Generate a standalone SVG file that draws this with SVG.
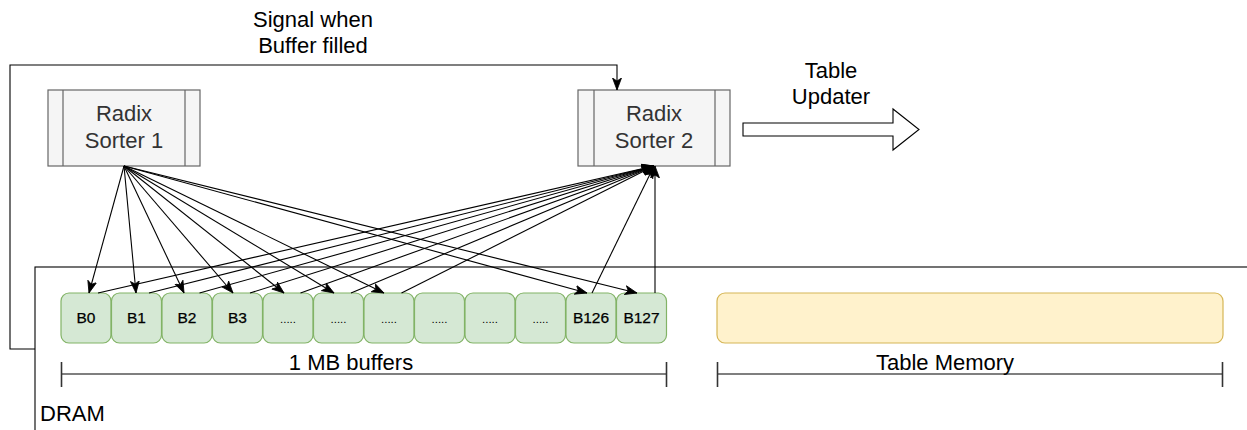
<svg xmlns="http://www.w3.org/2000/svg" width="1247" height="430" viewBox="0 0 1247 430">
<defs>
<style>
text{font-family:"Liberation Sans",Arial,sans-serif;}
.lbl{font-size:22px;fill:#000;text-anchor:middle;}
.sorter rect{fill:#f5f5f5;stroke:#666;stroke-width:1.2;}
.sorter line{stroke:#666;stroke-width:1.2;}
.sorter text{font-size:22px;fill:#333;text-anchor:middle;}
.buf rect{fill:#d5e8d4;stroke:#82b366;stroke-width:1.2;}
.buf text{font-size:15.5px;fill:#000;text-anchor:middle;stroke:#000;stroke-width:0.25;}
.buf text.dots{font-size:11.5px;stroke:none;}
.edge{fill:none;stroke:#000;stroke-width:1.1;marker-end:url(#arr);}
.dim{fill:none;stroke:#000;stroke-width:1.1;}
.tick{stroke:#333;stroke-width:1.6;}
</style>
<marker id="arr" markerUnits="userSpaceOnUse" markerWidth="13" markerHeight="11" viewBox="0 0 13 11" refX="12" refY="5.5" orient="auto">
<path d="M0,1 L12,5.5 L0,10 L3,5.5 z" fill="#000" stroke="#000" stroke-width="0.8"/>
</marker>
</defs>

<g id="dram">
<rect x="35" y="267" width="1300" height="300" fill="none" stroke="#000" stroke-width="1.1"/>
<text x="40" y="421" style="font-size:22px">DRAM</text>
</g>

<g id="radix-sorter-1" class="sorter">
<rect x="48" y="90" width="152" height="76"/>
<line x1="63" y1="90" x2="63" y2="166"/>
<line x1="185" y1="90" x2="185" y2="166"/>
<text x="124" y="121">Radix</text>
<text x="124" y="148">Sorter 1</text>
</g>

<g id="radix-sorter-2" class="sorter">
<rect x="578" y="90" width="152" height="76"/>
<line x1="594" y1="90" x2="594" y2="166"/>
<line x1="715" y1="90" x2="715" y2="166"/>
<text x="654" y="121">Radix</text>
<text x="654" y="148">Sorter 2</text>
</g>

<g id="buffers" class="buf">
<g id="b0"><rect x="61" y="293" width="50" height="50" rx="8"/><text x="86" y="323">B0</text></g>
<g id="b1"><rect x="111.5" y="293" width="50" height="50" rx="8"/><text x="136.5" y="323">B1</text></g>
<g id="b2"><rect x="162" y="293" width="50" height="50" rx="8"/><text x="187" y="323">B2</text></g>
<g id="b3"><rect x="212.5" y="293" width="50" height="50" rx="8"/><text x="237.5" y="323">B3</text></g>
<g id="b4"><rect x="263" y="293" width="50" height="50" rx="8"/><text class="dots" x="288" y="323">.....</text></g>
<g id="b5"><rect x="313.5" y="293" width="50" height="50" rx="8"/><text class="dots" x="338.5" y="323">.....</text></g>
<g id="b6"><rect x="364" y="293" width="50" height="50" rx="8"/><text class="dots" x="389" y="323">.....</text></g>
<g id="b7"><rect x="414.5" y="293" width="50" height="50" rx="8"/><text class="dots" x="439.5" y="323">.....</text></g>
<g id="b8"><rect x="465" y="293" width="50" height="50" rx="8"/><text class="dots" x="490" y="323">.....</text></g>
<g id="b9"><rect x="515.5" y="293" width="50" height="50" rx="8"/><text class="dots" x="540.5" y="323">.....</text></g>
<g id="b126"><rect x="566" y="293" width="50" height="50" rx="8"/><text x="591" y="323">B126</text></g>
<g id="b127"><rect x="616.5" y="293" width="50" height="50" rx="8"/><text x="641.5" y="323">B127</text></g>
</g>

<g id="table-memory">
<rect x="717" y="293" width="506" height="50" rx="8" fill="#fff2cc" stroke="#d6b656" stroke-width="1.2"/>
</g>

<g id="dim-buffers">
<line class="dim" x1="61" y1="374" x2="667" y2="374"/>
<line class="tick" x1="61.5" y1="362" x2="61.5" y2="387"/>
<line class="tick" x1="666.5" y1="362" x2="666.5" y2="387"/>
<text class="lbl" x="351" y="370">1 MB buffers</text>
</g>

<g id="dim-table">
<line class="dim" x1="717" y1="374" x2="1223" y2="374"/>
<line class="tick" x1="717.5" y1="362" x2="717.5" y2="387"/>
<line class="tick" x1="1222.5" y1="362" x2="1222.5" y2="387"/>
<text class="lbl" x="945" y="370">Table Memory</text>
</g>

<g id="table-updater">
<polygon points="743,123 893,123 893,109 919,129.5 893,150 893,136 743,136" fill="#fff" stroke="#000" stroke-width="1.1"/>
<text class="lbl" x="831" y="78">Table</text>
<text class="lbl" x="831" y="104">Updater</text>
</g>

<g id="connectors">
<path class="edge" d="M35,349 L10,349 L10,65 L617,65 L617,90"/>
<text class="lbl" x="313" y="27">Signal when</text>
<text class="lbl" x="313" y="53">Buffer filled</text>

<path class="edge" d="M124,166 L89,293"/>
<path class="edge" d="M124,166 L136,293"/>
<path class="edge" d="M124,166 L184,293"/>
<path class="edge" d="M124,166 L233,293"/>
<path class="edge" d="M124,166 L284,293"/>
<path class="edge" d="M124,166 L334,293"/>
<path class="edge" d="M124,166 L384,293"/>
<path class="edge" d="M124,166 L587,293"/>
<path class="edge" d="M124,166 L637,293"/>

<path class="edge" d="M98,293 L654,166"/>
<path class="edge" d="M149,293 L654,166"/>
<path class="edge" d="M199.5,293 L654,166"/>
<path class="edge" d="M250,293 L654,166"/>
<path class="edge" d="M300.5,293 L654,166"/>
<path class="edge" d="M351,293 L654,166"/>
<path class="edge" d="M401.5,293 L654,166"/>
<path class="edge" d="M592,293 L654,166"/>
<path class="edge" d="M655,293 L655,166"/>
</g>
</svg>
